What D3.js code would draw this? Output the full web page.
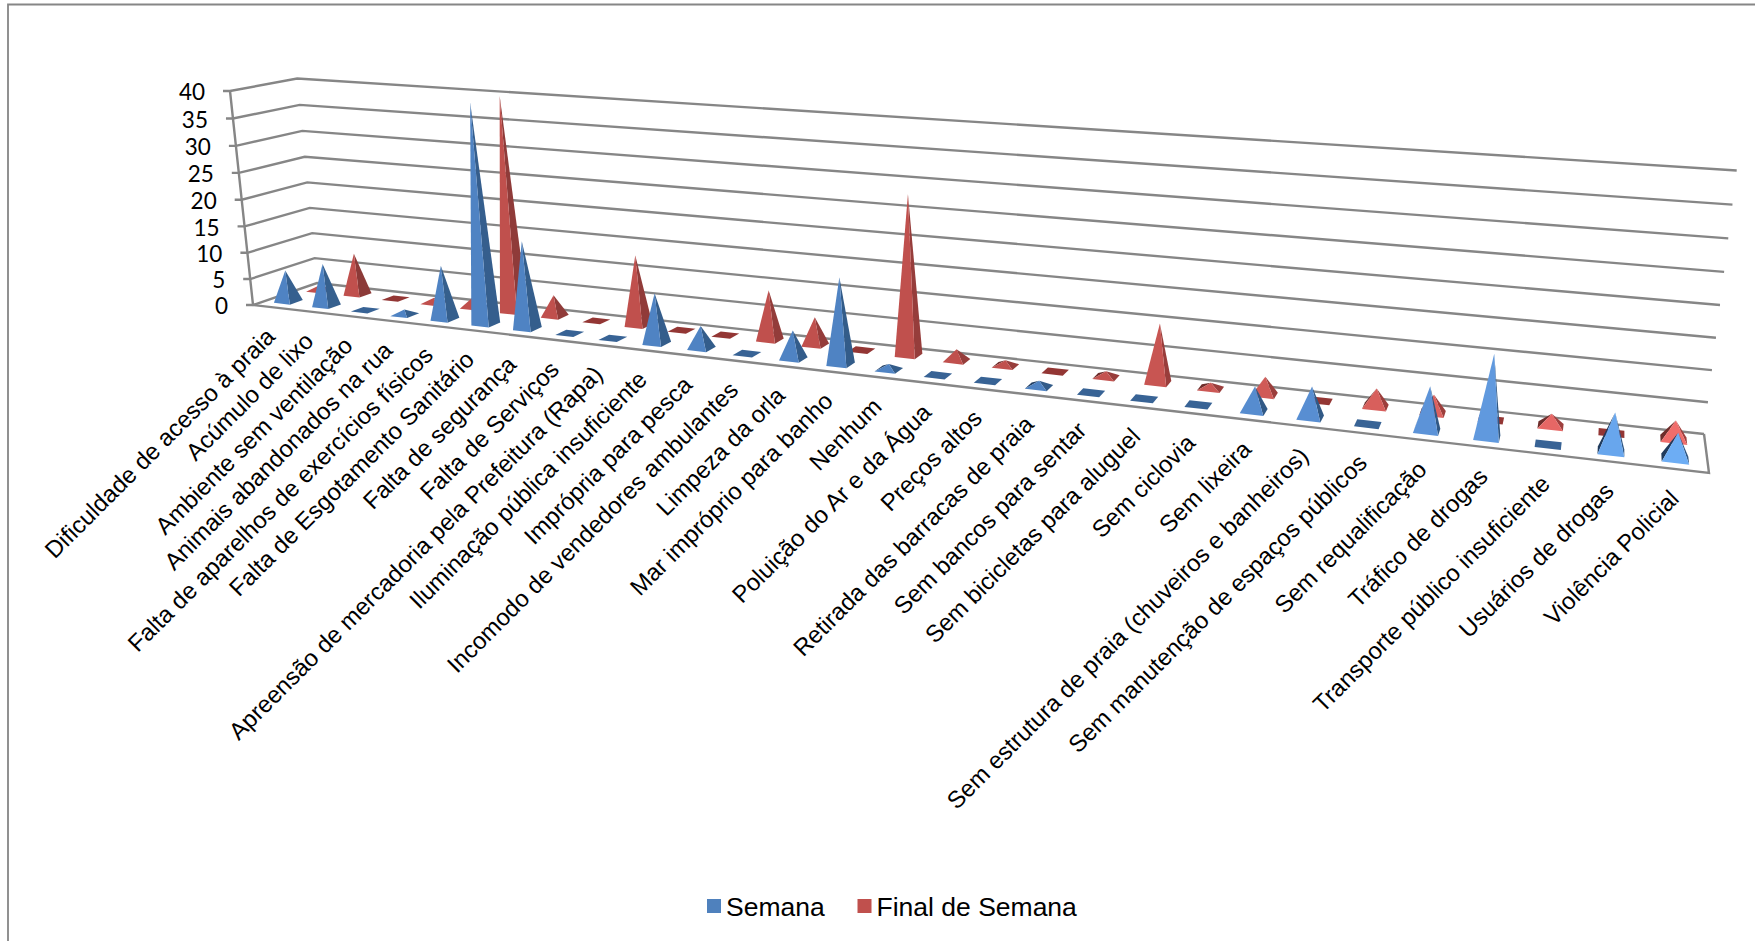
<!DOCTYPE html>
<html lang="pt">
<head>
<meta charset="utf-8">
<title>Semana e Final de Semana</title>
<script src="https://cdn.jsdelivr.net/npm/d3@7"></script>
<style>
  html, body { margin: 0; padding: 0; background: #fff; }
  svg { display: block; }
</style>
</head>
<body>
<svg id="chart" width="1755" height="941"></svg>
<script>
const categories = [
  "Dificuldade de acesso à praia", "Acúmulo de lixo", "Ambiente sem ventilação",
  "Animais abandonados na rua", "Falta de aparelhos de exercícios físicos",
  "Falta de Esgotamento Sanitário", "Falta de segurança", "Falta de Serviços",
  "Apreensão de mercadoria pela Prefeitura (Rapa)", "Iluminação pública insuficiente",
  "Imprópria para pesca", "Incomodo de vendedores ambulantes", "Limpeza da orla",
  "Mar impróprio para banho", "Nenhum", "Poluição do Ar e da Água", "Preços altos",
  "Retirada das barracas de praia", "Sem bancos para sentar", "Sem bicicletas para aluguel",
  "Sem ciclovia", "Sem lixeira", "Sem estrutura de praia (chuveiros e banheiros)",
  "Sem manutenção de espaços públicos", "Sem requalificação", "Tráfico de drogas",
  "Transporte público insuficiente", "Usuários de drogas", "Violência Policial"
];
const semana = [6, 8, 0, 1, 10, 40, 16, 0, 0, 9, 4, 0, 5, 15, 1, 0, 0, 1, 0, 0, 0, 4, 5, 0, 7, 13, 0, 6, 4];
const finalDeSemana = [1, 8, 0, 1, 2, 40, 4, 0, 13, 0, 0, 9, 5, 0, 28, 2, 1, 0, 1, 10, 1, 3, 0, 3, 3, 0, 2, 0, 3];
const yTicks = [0, 5, 10, 15, 20, 25, 30, 35, 40];
const seriesNames = ["Semana", "Final de Semana"];

const svg = d3.select("#chart");

// Floor of the plot box on screen, plus the vanishing point of its vertical edges.
const floor = { fl: [253, 305], fr: [1709, 473], br: [1704, 434], bl: [317, 283] };
const verticalVanish = [934, 6642];
const topLeftY = 91;

// Perspective camera: a square-to-quad homography for the floor,
// extended with a height term that pulls points toward the vertical vanishing point.
const dx1 = floor.fr[0] - floor.br[0], dy1 = floor.fr[1] - floor.br[1];
const dx2 = floor.bl[0] - floor.br[0], dy2 = floor.bl[1] - floor.br[1];
const dx3 = floor.fl[0] - floor.fr[0] + floor.br[0] - floor.bl[0];
const dy3 = floor.fl[1] - floor.fr[1] + floor.br[1] - floor.bl[1];
const det = dx1 * dy2 - dy1 * dx2;
const gU = (dx3 * dy2 - dy3 * dx2) / det;
const gV = (dx1 * dy3 - dy1 * dx3) / det;
const lift = (topLeftY - floor.fl[1]) / (verticalVanish[1] - topLeftY);

const uScale = d3.scaleLinear().domain([0, categories.length]).range([0, 1]);
const hScale = d3.scaleLinear().domain([0, 40]).range([0, 1]);

function project(cat, depth, value) {
  const u = uScale(cat), v = depth, h = hScale(value);
  const w = 1 + gU * u + gV * v;
  const fx = floor.fl[0] + (floor.fr[0] - floor.fl[0] + gU * floor.fr[0]) * u + (floor.bl[0] - floor.fl[0] + gV * floor.bl[0]) * v;
  const fy = floor.fl[1] + (floor.fr[1] - floor.fl[1] + gU * floor.fr[1]) * u + (floor.bl[1] - floor.fl[1] + gV * floor.bl[1]) * v;
  const ww = w + lift * h;
  return [(fx + lift * h * verticalVanish[0]) / ww, (fy + lift * h * verticalVanish[1]) / ww];
}

const GRID = "#868686";
const line = d3.line();

// Outer frame: only the top and left edges are visible.
svg.append("path").attr("d", line([[8, 941], [8, 4.5], [1755, 4.5]]))
  .attr("fill", "none").attr("stroke", GRID).attr("stroke-width", 1.8);

// Walls: a polyline per tick running along the side wall and then the back wall.
const nCats = categories.length;
svg.append("g").selectAll("path").data(yTicks).join("path")
  .attr("d", v => line([[project(0, 0, v)[0] - 7, project(0, 0, v)[1]],
                        project(0, 0, v), project(0, 1, v), project(nCats, 1, v)]))
  .attr("fill", "none").attr("stroke", GRID).attr("stroke-width", 2.4);

// Value axis and the front and right edges of the floor.
svg.append("path").attr("d", line([project(0, 0, 40), project(0, 0, 0), project(nCats, 0, 0), project(nCats, 1, 0)]))
  .attr("fill", "none").attr("stroke", GRID).attr("stroke-width", 2.4);

svg.append("g").selectAll("text").data(yTicks).join("text")
  .attr("x", v => project(0, 0, v)[0] - 25)
  .attr("y", v => project(0, 0, v)[1])
  .attr("dy", "0.42em")
  .attr("text-anchor", "end")
  .attr("font-family", "Lato, 'Open Sans', sans-serif")
  .attr("font-size", 22.5)
  .attr("fill", "#000")
  .text(d => d);

// Face colours brighten toward the right, where the light falls more directly on the fronts.
const shade = {
  blue: {
    front: d3.scaleLinear().domain([0, 0.6, 0.85, 1]).range(["#4f83c3", "#4f83c3", "#5c93d8", "#6fb0f8"]),
    right: d3.scaleLinear().domain([0, 1]).range(["#36608f", "#2f5783"]),
    left: d3.scaleLinear().domain([0, 1]).range(["#2a4a70", "#1f3a5c"]),
    flat: "#386395"
  },
  red: {
    front: d3.scaleLinear().domain([0, 0.6, 0.85, 1]).range(["#c0504d", "#c0504d", "#dd625f", "#f26e6c"]),
    right: d3.scaleLinear().domain([0, 1]).range(["#8b3a38", "#a03f3d"]),
    left: d3.scaleLinear().domain([0, 1]).range(["#6e2d2b", "#6e2d2b"]),
    flat: "#933634"
  }
};

const baseU = 0.21, baseV = 0.1;

function pyramidFaces(cat, depth, value, palette) {
  const c = cat + 0.5, t = uScale(c);
  const p = [
    project(c - baseU, depth - baseV, 0),
    project(c + baseU, depth - baseV, 0),
    project(c + baseU, depth + baseV, 0),
    project(c - baseU, depth + baseV, 0)
  ];
  if (value === 0) return [{ pts: p, fill: palette.flat }];
  const apex = project(c, depth, value);
  const area = (a, b, q) => (b[0] - a[0]) * (q[1] - a[1]) - (b[1] - a[1]) * (q[0] - a[0]);
  const faces = [
    { pts: [p[2], p[3], apex], fill: palette.flat },
    { pts: [p[3], p[0], apex], fill: palette.left(t) },
    { pts: [p[1], p[2], apex], fill: palette.right(t) },
    { pts: [p[0], p[1], apex], fill: palette.front(t) }
  ];
  // Keep only the faces turned toward the camera.
  return faces.filter(f => area(f.pts[0], f.pts[1], f.pts[2]) < 0);
}

// The weekend row stands behind the weekday row, so it is drawn first.
const rows = [
  { values: finalDeSemana, depth: 0.75, palette: shade.red },
  { values: semana, depth: 0.25, palette: shade.blue }
];
const rowGroups = svg.append("g").selectAll("g").data(rows).join("g");
rowGroups.selectAll("g").data(r => r.values.map((v, i) => ({ v, i, r }))).join("g")
  .selectAll("path")
  .data(d => pyramidFaces(d.i, d.r.depth, d.v, d.r.palette))
  .join("path")
  .attr("d", f => line(f.pts) + "Z")
  .attr("fill", f => f.fill);

// Category labels run up to the front edge of the floor at 45 degrees.
svg.append("g").selectAll("text").data(categories).join("text")
  .attr("transform", (d, i) => {
    const p = project(i + 0.5, 0, 0);
    return `translate(${p[0] + 4.5},${p[1] + 31}) rotate(-45)`;
  })
  .attr("text-anchor", "end")
  .attr("font-family", "'Liberation Sans', Arial, sans-serif")
  .attr("font-size", 23.9)
  .attr("fill", "#000")
  .text(d => d);

// Legend
const legendColors = ["#4f81bd", "#c0504d"];
const legendX = [707, 857.5];
const legend = svg.append("g").selectAll("g").data(seriesNames).join("g")
  .attr("transform", (d, i) => `translate(${legendX[i]},899)`);
legend.append("rect").attr("width", 14).attr("height", 14).attr("fill", (d, i) => legendColors[i]);
legend.append("text").attr("x", 19).attr("y", 17)
  .attr("font-family", "'Liberation Sans', Arial, sans-serif")
  .attr("font-size", 26.5).attr("fill", "#000").text(d => d);
</script>
</body>
</html>
